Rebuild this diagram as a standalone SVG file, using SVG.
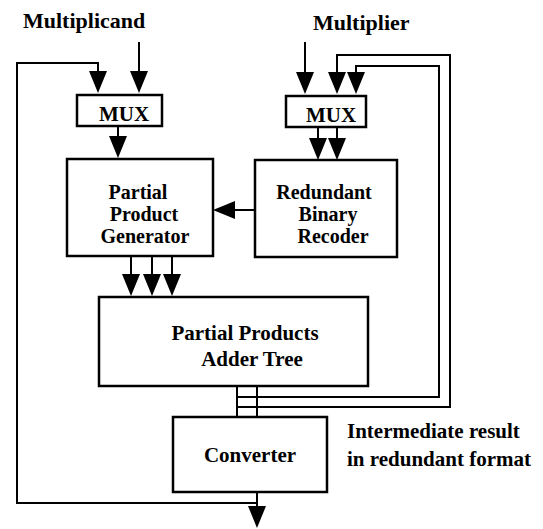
<svg xmlns="http://www.w3.org/2000/svg" width="543" height="529" viewBox="0 0 543 529">
<defs>
<marker id="ah" markerUnits="userSpaceOnUse" markerWidth="24" markerHeight="20" refX="12" refY="9" orient="auto" viewBox="0 0 24 20">
<path d="M0,0 L22,9 L0,18 Z" fill="#000"/>
</marker>
<style>
.box{fill:#fff;stroke:#000;stroke-width:2.5}
.ln{fill:none;stroke:#000;stroke-width:2}
.ar{marker-end:url(#ah)}
text{font-family:"Liberation Serif","Times New Roman",serif;font-size:21px;font-weight:bold;fill:#000}
.s{font-size:20px}
.m{text-anchor:middle}
</style>
</defs>
<rect width="543" height="529" fill="#fff"/>
<g id="connectors">
<path class="ln ar" d="M139,42 V83"/>
<path class="ln ar" d="M257,503 H17 V63 H98 V83"/>
<path class="ln ar" d="M305,42 V84"/>
<path class="ln ar" d="M237,407 H450 V55 H337 V84"/>
<path class="ln ar" d="M237,397 H439 V66 H356 V84"/>
<path class="ln" d="M237,386 V417 M257,386 V417"/>
<path class="ln ar" d="M118,126 V148"/>
<path class="ln ar" d="M318,127 V150"/>
<path class="ln ar" d="M337,127 V150"/>
<path class="ln ar" d="M255,210 H223"/>
<path class="ln ar" d="M131,256 V286"/>
<path class="ln ar" d="M152,256 V286"/>
<path class="ln ar" d="M172,256 V286"/>
<path class="ln ar" d="M257,492 V518"/>
</g>
<g id="label-multiplicand"><text x="23" y="28" style="font-size:22px">Multiplicand</text></g>
<g id="label-multiplier"><text x="313" y="30" style="font-size:22px">Multiplier</text></g>
<g id="mux-left"><rect class="box" x="77" y="95" width="85" height="31"/><text class="m" x="124" y="121">MUX</text></g>
<g id="mux-right"><rect class="box" x="286" y="96" width="80" height="31"/><text class="m" x="331" y="122">MUX</text></g>
<g id="ppg"><rect class="box" x="67" y="159" width="146" height="97"/>
<text class="m s" x="138" y="199">Partial</text><text class="m s" x="144" y="221">Product</text><text class="m s" x="145" y="243">Generator</text></g>
<g id="rbr"><rect class="box" x="255" y="160" width="142" height="97"/>
<text class="m s" x="324" y="199">Redundant</text><text class="m s" x="328" y="221">Binary</text><text class="m s" x="333" y="243">Recoder</text></g>
<g id="ppat"><rect class="box" x="99" y="297" width="269" height="89"/>
<text class="m" x="245" y="340">Partial Products</text><text class="m" x="252" y="366">Adder Tree</text></g>
<g id="converter"><rect class="box" x="173" y="417" width="154" height="75"/>
<text class="m" x="250" y="462">Converter</text></g>
<g id="label-intermediate"><text x="347" y="438">Intermediate result</text><text x="347" y="466">in redundant format</text></g>
</svg>
